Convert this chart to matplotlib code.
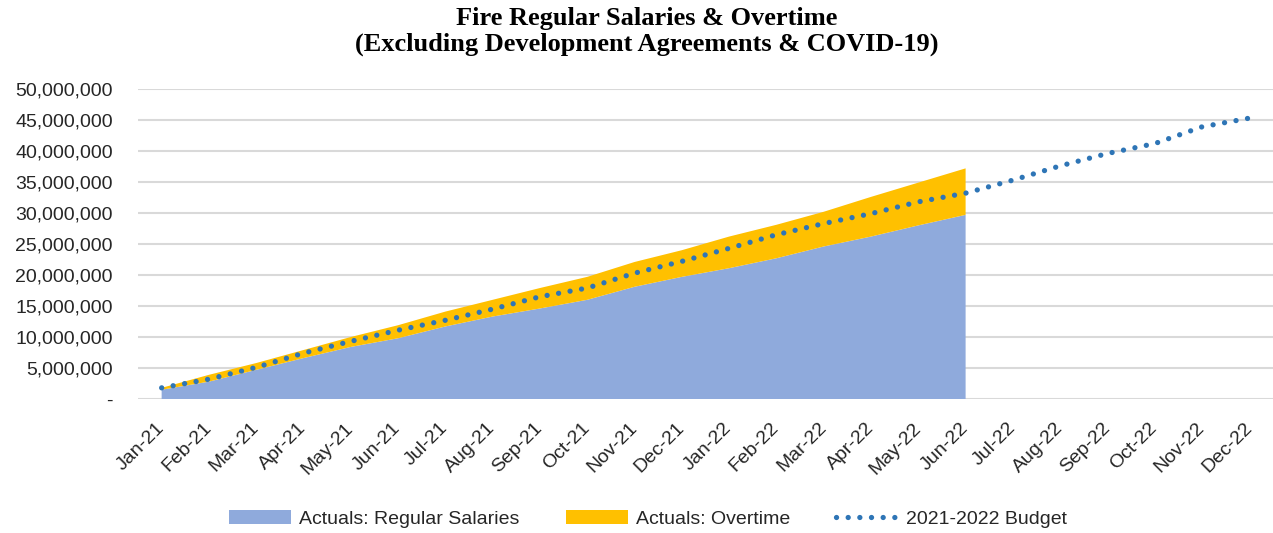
import matplotlib
matplotlib.use("Agg")
import matplotlib.pyplot as plt
from matplotlib.ticker import FuncFormatter

# months on the category axis
months = ["Jan-21", "Feb-21", "Mar-21", "Apr-21", "May-21", "Jun-21", "Jul-21", "Aug-21",
          "Sep-21", "Oct-21", "Nov-21", "Dec-21", "Jan-22", "Feb-22", "Mar-22", "Apr-22",
          "May-22", "Jun-22", "Jul-22", "Aug-22", "Sep-22", "Oct-22", "Nov-22", "Dec-22"]

# cumulative actuals (Jan-21 .. Jun-22)
regular = [1.5e6, 2.8e6, 4.7e6, 6.6e6, 8.4e6, 9.8e6, 11.7e6, 13.3e6, 14.6e6, 16.0e6,
           18.1e6, 19.7e6, 21.1e6, 22.7e6, 24.6e6, 26.2e6, 28.0e6, 29.7e6]
overtime = [0.3e6, 1.1e6, 1.1e6, 1.3e6, 1.6e6, 2.1e6, 2.4e6, 2.7e6, 3.3e6, 3.7e6,
            4.0e6, 4.3e6, 5.1e6, 5.4e6, 5.6e6, 6.4e6, 6.9e6, 7.5e6]

# cumulative budget for the whole period
budget = [1.8e6, 3.2e6, 5.1e6, 7.4e6, 9.3e6, 11.1e6, 12.7e6, 14.5e6, 16.5e6, 17.9e6,
          20.3e6, 22.2e6, 24.3e6, 26.5e6, 28.3e6, 29.9e6, 31.8e6, 33.2e6, 35.3e6, 37.6e6,
          39.6e6, 41.2e6, 43.9e6, 45.3e6]

plt.rcParams['font.family'] = ['Liberation Sans', 'DejaVu Sans']

fig = plt.figure(figsize=(12.73, 5.33), dpi=100)
ax = fig.add_axes([138 / 1273, 1 - 399 / 533, 1 - 138 / 1273, (399 - 89) / 533])

x_act = list(range(len(regular)))
x_all = list(range(len(months)))

ax.stackplot(x_act, regular, overtime, colors=['#8faadc', '#ffc000'], linewidth=0,
             labels=['Actuals: Regular Salaries', 'Actuals: Overtime'], zorder=2)
ax.plot(x_all, budget, color='#2e75b6', linewidth=3.8, linestyle=(0, (0.01, 2.2)),
        dash_capstyle='round', label='2021-2022 Budget', zorder=3)

ax.set_xlim(-0.5, len(months) - 0.5)
ax.set_ylim(0, 50e6)
ax.set_yticks([i * 5e6 for i in range(11)])
ax.yaxis.set_major_formatter(FuncFormatter(lambda v, p: '-' if v == 0 else f'{v:,.0f}'))
ax.grid(axis='y', color='#d9d9d9', linewidth=1.5, zorder=0)
ax.set_axisbelow(True)
for s in ax.spines.values():
    s.set_visible(False)

ax.set_xticks(x_all)
ax.set_xticklabels(months, rotation=45, ha='right', va='center', rotation_mode='anchor')
ax.tick_params(axis='x', length=0, pad=19, labelsize=14, labelcolor='#262626')
ax.tick_params(axis='y', length=0, pad=18, labelsize=14, labelcolor='#262626')

fig.text(0.508, 1 - 7 / 533,
         'Fire Regular Salaries & Overtime\n(Excluding Development Agreements & COVID-19)',
         ha='center', va='top', fontsize=19, fontweight='bold', family='Liberation Serif',
         linespacing=1.15, color='black')

fig.legend(loc='center', bbox_to_anchor=(648 / 1273, 1 - 519 / 533), ncol=3, frameon=False,
           fontsize=14, handlelength=3.2, handletextpad=0.4, columnspacing=2.4,
           labelcolor='#262626')

fig.savefig('out.png', dpi=100)
